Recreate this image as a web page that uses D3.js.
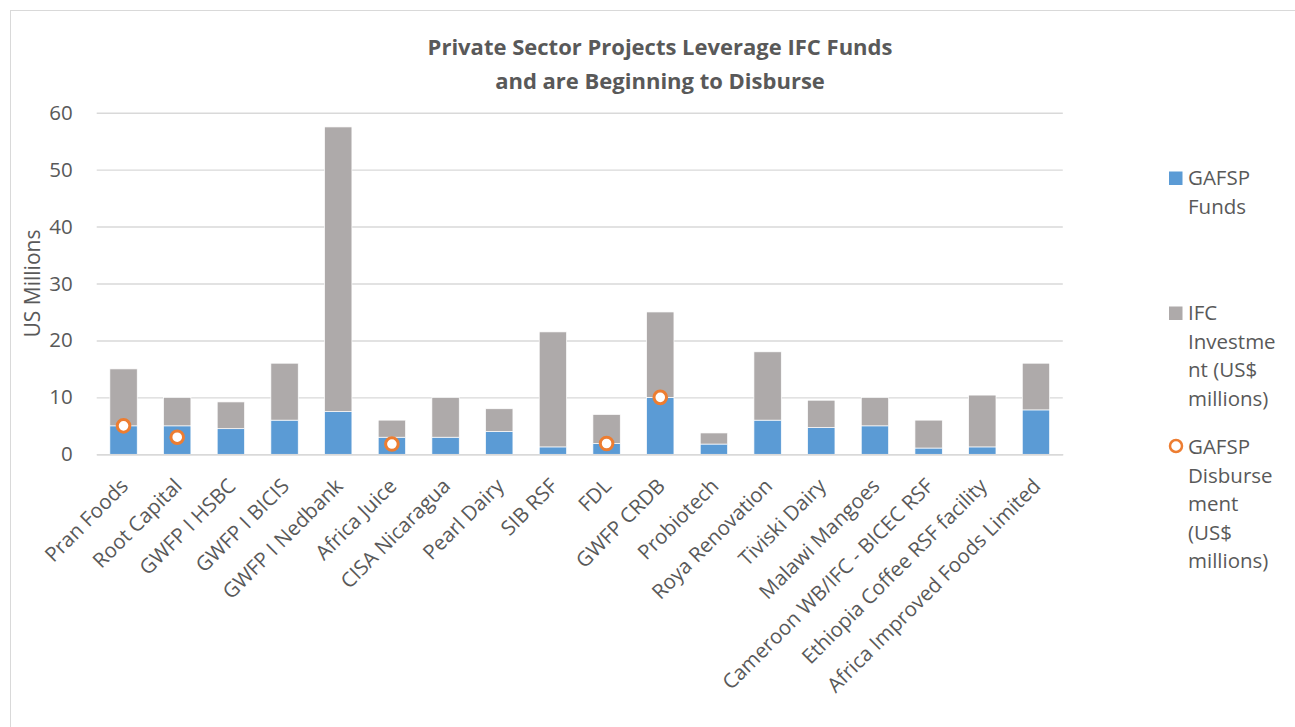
<!DOCTYPE html>
<html>
<head>
<meta charset="utf-8">
<script src="https://cdn.jsdelivr.net/npm/d3@7"></script>
<style>
  body { margin: 0; background: #fff; }
  svg { display: block; font-family: "Open Sans", sans-serif; }
</style>
</head>
<body>
<svg id="chart"></svg>
<script>
const projects = [
  "Pran Foods", "Root Capital", "GWFP I HSBC", "GWFP I BICIS", "GWFP I Nedbank",
  "Africa Juice", "CISA Nicaragua", "Pearl Dairy", "SIB RSF", "FDL", "GWFP CRDB",
  "Probiotech", "Roya Renovation", "Tiviski Dairy", "Malawi Mangoes",
  "Cameroon WB/IFC - BICEC RSF", "Ethiopia Coffee RSF facility", "Africa Improved Foods Limited"
];
const gafspFunds    = [5, 5, 4.5, 6, 7.5, 3, 3, 4, 1.3, 1.9, 10, 1.8, 6, 4.7, 5, 1.1, 1.3, 7.8];
const ifcInvestment = [10, 5, 4.7, 10, 50, 3, 7, 4, 20.2, 5.1, 15, 1.95, 12, 4.8, 5, 4.9, 9.1, 8.2];
const disbursement  = [5, 3, null, null, null, 1.8, null, null, null, 1.9, 10, null, null, null, null, null, null, null];
const yTicks = [0, 10, 20, 30, 40, 50, 60];

const titleLines = ["Private Sector Projects Leverage IFC Funds", "and are Beginning to Disburse"];
const legendItems = [
  {key: "gafsp", lines: ["GAFSP", "Funds"]},
  {key: "ifc", lines: ["IFC", "Investme", "nt (US$", "millions)"]},
  {key: "disb", lines: ["GAFSP", "Disburse", "ment", "(US$", "millions)"]}
];

const W = 1295, H = 727;
const colors = {gafsp: "#5B9BD5", ifc: "#AEAAAA", disb: "#ED7D31"};
const textColor = "#595959", gridColor = "#D9D9D9";

const svg = d3.select("#chart").attr("width", W).attr("height", H);

// chart frame
svg.append("rect")
  .attr("x", 10.5).attr("y", 10.5)
  .attr("width", W + 20).attr("height", H + 20)
  .attr("fill", "#fff")
  .attr("stroke", gridColor);

const plot = {left: 96.7, right: 1062.8, top: 112.7, bottom: 454.3};

const x = d3.scaleBand()
  .domain(projects)
  .range([plot.left, plot.right])
  .paddingInner(0.49)
  .paddingOuter(0.245);

const y = d3.scaleLinear()
  .domain([0, 60])
  .range([plot.bottom, plot.top]);

const rows = projects.map((p, i) => ({
  project: p,
  gafsp: gafspFunds[i],
  ifc: ifcInvestment[i],
  disb: disbursement[i]
}));

const stacked = d3.stack().keys(["gafsp", "ifc"])(rows);

// Gridlines + y axis labels
svg.append("g")
  .attr("class", "axis axis--y")
  .attr("transform", `translate(${plot.left},0)`)
  .call(d3.axisLeft(y).tickValues(yTicks).tickSize(-(plot.right - plot.left)).tickPadding(24))
  .call(g => g.select(".domain").remove())
  .call(g => g.selectAll(".tick line").attr("stroke", gridColor).attr("stroke-width", 1.4))
  .call(g => g.selectAll(".tick text")
    .attr("fill", textColor)
    .attr("font-size", 20.5)
    .attr("font-family", "Open Sans"));

// Bars
svg.append("g")
  .selectAll("g")
  .data(stacked)
  .enter().append("g")
  .attr("fill", d => colors[d.key])
  .selectAll("rect")
  .data(d => d)
  .enter().append("rect")
  .attr("x", d => x(d.data.project))
  .attr("width", x.bandwidth())
  .attr("y", d => y(d[1]))
  .attr("height", d => y(d[0]) - y(d[1]))
  .attr("stroke", "#fff")
  .attr("stroke-width", 0.7);

// X axis
svg.append("g")
  .attr("class", "axis axis--x")
  .attr("transform", `translate(0,${plot.bottom})`)
  .call(d3.axisBottom(x).tickSize(0).tickFormat(""))
  .call(g => g.select(".domain").attr("stroke", gridColor).attr("stroke-width", 1.6));

svg.append("g")
  .selectAll("text")
  .data(projects)
  .enter().append("text")
  .attr("transform", d => `translate(${x(d) + x.bandwidth() / 2 + 6},${plot.bottom + 33}) rotate(-45)`)
  .attr("text-anchor", "end")
  .attr("fill", textColor)
  .attr("font-size", 20.5)
  .text(d => d);

// Disbursement markers
svg.append("g")
  .selectAll("circle")
  .data(rows.filter(d => d.disb != null))
  .enter().append("circle")
  .attr("cx", d => x(d.project) + x.bandwidth() / 2)
  .attr("cy", d => y(d.disb))
  .attr("r", 6.3)
  .attr("fill", "#fff")
  .attr("stroke", colors.disb)
  .attr("stroke-width", 3);

// Title
svg.append("text")
  .attr("x", 660)
  .attr("text-anchor", "middle")
  .attr("fill", textColor)
  .attr("font-size", 22)
  .attr("font-weight", "bold")
  .selectAll("tspan")
  .data(titleLines)
  .enter().append("tspan")
  .attr("x", 660)
  .attr("y", (d, i) => 55 + i * 34)
  .text(d => d);

// Y axis title
svg.append("text")
  .attr("transform", `translate(40,${(plot.top + plot.bottom) / 2}) rotate(-90)`)
  .attr("text-anchor", "middle")
  .attr("fill", textColor)
  .attr("font-size", 21)
  .text("US Millions");

// Legend
const legendTop = [185, 320, 454];
const legend = svg.append("g").attr("class", "legend");

legendItems.forEach((item, i) => {
  const g = legend.append("g").attr("transform", `translate(0,${legendTop[i]})`);
  if (item.key === "disb") {
    g.append("circle")
      .attr("cx", 1176).attr("cy", -8)
      .attr("r", 6)
      .attr("fill", "#fff")
      .attr("stroke", colors.disb)
      .attr("stroke-width", 2.5);
  } else {
    g.append("rect")
      .attr("x", 1169).attr("y", -13.5)
      .attr("width", 13.5).attr("height", 13.5)
      .attr("fill", colors[item.key]);
  }
  g.append("text")
    .attr("fill", textColor)
    .attr("font-size", 20.5)
    .selectAll("tspan")
    .data(item.lines)
    .enter().append("tspan")
    .attr("x", 1188)
    .attr("y", (d, j) => j * 28.6)
    .text(d => d);
});
</script>
</body>
</html>
